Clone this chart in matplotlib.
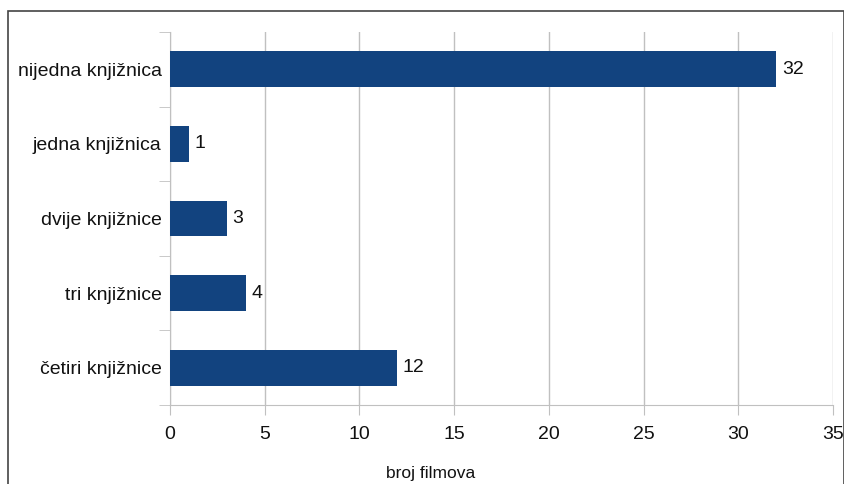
import matplotlib.pyplot as plt
from matplotlib.patches import Rectangle

plt.rcParams['font.family'] = ['Liberation Sans', 'DejaVu Sans']

categories = ["nijedna knjižnica", "jedna knjižnica", "dvije knjižnice", "tri knjižnice", "četiri knjižnice"]
values = [32, 1, 3, 4, 12]
xticks = [0, 5, 10, 15, 20, 25, 30, 35]

W, H = 845, 484
fig = plt.figure(figsize=(W / 100, H / 100), dpi=100)
ax = fig.add_axes([170 / W, 1 - 405 / H, (833 - 170) / W, (405 - 32) / H])

# outer frame of the chart
fig.patches.append(Rectangle((8 / W, -0.05), (844 - 8) / W, 1.05 - 11 / H, transform=fig.transFigure,
                             fill=False, edgecolor='#444444', linewidth=1.2))

pos = list(range(len(categories)))
bars = ax.barh(pos, values, height=0.48, color='#12437f', zorder=3)
ax.set_ylim(len(categories) - 0.5, -0.5)
ax.set_xlim(0, 35)

for p, v in zip(pos, values):
    ax.text(v + 0.3, p, str(v), va='center', ha='left', fontsize=14, color='#111111')

ax.set_xticks(xticks)
ax.set_xticklabels([str(t) for t in xticks], fontsize=14, color='#111111')
ax.set_yticks(pos)
ax.set_yticklabels(categories, fontsize=14, color='#111111')
ax.tick_params(axis='y', length=0, pad=6)
ax.tick_params(axis='x', length=7, color='#c0c0c0', pad=8)
ax.set_yticks([i - 0.5 for i in range(len(categories) + 1)], minor=True)
ax.tick_params(axis='y', which='minor', length=8, color='#c0c0c0')

ax.grid(axis='x', color='#c0c0c0', linewidth=1, zorder=0)
for s in ['top', 'right']:
    ax.spines[s].set_visible(False)
ax.spines['left'].set_color('#c0c0c0')
ax.spines['bottom'].set_color('#c0c0c0')

ax.set_xlabel("broj filmova", fontsize=12.5, color='#111111')
ax.xaxis.set_label_coords((431 - 170) / 663, -(466 - 405) / 373)

fig.savefig("out.png", dpi=100)
